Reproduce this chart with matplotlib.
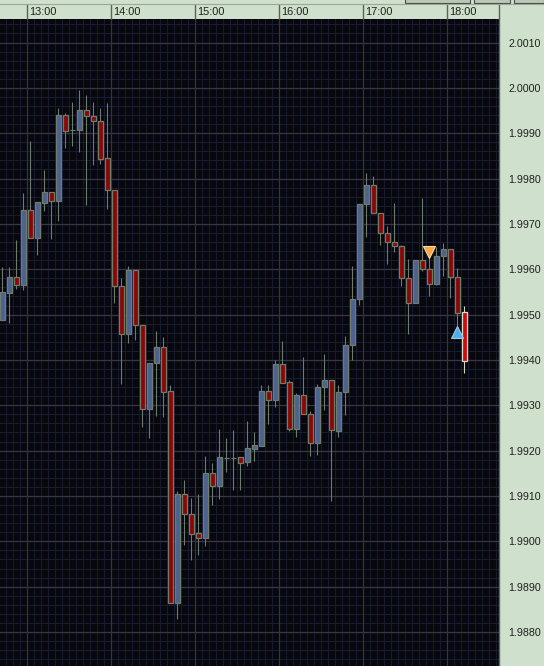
import numpy as np
import matplotlib
matplotlib.use("Agg")
import matplotlib.pyplot as plt
from matplotlib.lines import Line2D
from matplotlib.patches import Rectangle

# 5 minute candles
opens = [1.99487, 1.99548, 1.99582, 1.99566, 1.99730, 1.99670, 1.99747, 1.99770, 1.99751, 1.99940,
         1.99906, 1.99906, 1.99951, 1.99938, 1.99927, 1.99845, 1.99775, 1.99562, 1.99458, 1.99598,
         1.99478, 1.99291, 1.99393, 1.99428, 1.99331, 1.98865, 1.99104, 1.99061, 1.99018, 1.99008,
         1.99151, 1.99121, 1.99184, 1.99184, 1.99185, 1.99174, 1.99204, 1.99211, 1.99332, 1.99311,
         1.99391, 1.99351, 1.99247, 1.99323, 1.99281, 1.99216, 1.99340, 1.99356, 1.99244, 1.99329,
         1.99432, 1.99534, 1.99743, 1.99785, 1.99724, 1.99679, 1.99660, 1.99651, 1.99580, 1.99526,
         1.99620, 1.99600, 1.99568, 1.99629, 1.99644, 1.99584, 1.99505]
highs = [1.99604, 1.99604, 1.99664, 1.99768, 1.99883, 1.99748, 1.99819, 1.99770, 1.99956, 1.99944,
         1.99969, 1.99996, 1.99984, 1.99968, 1.99955, 1.99966, 1.99775, 1.99580, 1.99607, 1.99598,
         1.99478, 1.99393, 1.99463, 1.99451, 1.99344, 1.99110, 1.99135, 1.99096, 1.99104, 1.99188,
         1.99173, 1.99248, 1.99228, 1.99246, 1.99185, 1.99265, 1.99241, 1.99345, 1.99345, 1.99400,
         1.99442, 1.99356, 1.99328, 1.99407, 1.99287, 1.99347, 1.99412, 1.99356, 1.99344, 1.99453,
         1.99607, 1.99743, 1.99812, 1.99806, 1.99724, 1.99696, 1.99747, 1.99654, 1.99623, 1.99620,
         1.99757, 1.99635, 1.99648, 1.99658, 1.99644, 1.99602, 1.99519]
lows = [1.99487, 1.99482, 1.99557, 1.99554, 1.99670, 1.99632, 1.99729, 1.99667, 1.99707, 1.99868,
        1.99872, 1.99859, 1.99742, 1.99829, 1.99833, 1.99733, 1.99526, 1.99348, 1.99438, 1.99444,
        1.99253, 1.99227, 1.99277, 1.99275, 1.98865, 1.98829, 1.98992, 1.98959, 1.98970, 1.98990,
        1.99080, 1.99093, 1.99153, 1.99113, 1.99113, 1.99165, 1.99178, 1.99211, 1.99259, 1.99297,
        1.99349, 1.99244, 1.99229, 1.99280, 1.99189, 1.99191, 1.99290, 1.99089, 1.99231, 1.99279,
        1.99400, 1.99521, 1.99672, 1.99724, 1.99654, 1.99612, 1.99639, 1.99563, 1.99457, 1.99526,
        1.99597, 1.99542, 1.99565, 1.99585, 1.99537, 1.99473, 1.99372]
closes = [1.99549, 1.99582, 1.99566, 1.99730, 1.99670, 1.99748, 1.99770, 1.99751, 1.99940, 1.99904,
          1.99906, 1.99951, 1.99937, 1.99927, 1.99844, 1.99774, 1.99562, 1.99458, 1.99598, 1.99478,
          1.99291, 1.99393, 1.99428, 1.99330, 1.98865, 1.99104, 1.99061, 1.99017, 1.99008, 1.99151,
          1.99121, 1.99186, 1.99184, 1.99184, 1.99173, 1.99206, 1.99212, 1.99332, 1.99311, 1.99391,
          1.99350, 1.99247, 1.99323, 1.99280, 1.99216, 1.99340, 1.99356, 1.99245, 1.99329, 1.99432,
          1.99534, 1.99743, 1.99785, 1.99724, 1.99679, 1.99660, 1.99651, 1.99580, 1.99526, 1.99620,
          1.99600, 1.99568, 1.99629, 1.99644, 1.99584, 1.99504, 1.99398]

hour_labels = ['13:00', '14:00', '15:00', '16:00', '17:00', '18:00']
first_hour_slot = 3.5      # bar slot where 13:00 starts
bars_per_hour = 12

price_ticks = [2.0010, 2.0000, 1.9990, 1.9980, 1.9970, 1.9960, 1.9950, 1.9940,
               1.9930, 1.9920, 1.9910, 1.9900, 1.9890, 1.9880]

sell_signal = (60.9, 1.99638)
buy_signal = (64.9, 1.99462)

# colours
bg = '#07070d'
panel = '#cfe0cc'
up_col = '#4b6292'
dn_col = '#8c0606'
edge_col = '#6f7c6c'
wick_col = '#6d7b6c'

W, H = 544, 666
plot_right = 499
plot_top = 18.5

fig = plt.figure(figsize=(W / 100, H / 100), dpi=100, facecolor=panel)
ax = fig.add_axes([0, 0, plot_right / W, (H - plot_top) / H])
ax.set_facecolor(bg)

n = len(opens)
x = np.arange(n)
ax.set_xlim(-0.33, (plot_right - 2.3) / 7)
ax.set_ylim(1.98725, 2.00153)

# grid
for gx in np.arange(-0.5, n + 5, 1.0):
    ax.axvline(gx, color='#151a2c', lw=0.8, zorder=0)
for gy in np.arange(1.9872, 2.0016, 0.0002):
    ax.axhline(gy, color='#171c30', lw=0.8, zorder=0)
for p in price_ticks:
    ax.axhline(p, color='#3a3648', lw=0.9, zorder=0.5)
hour_pos = [first_hour_slot + bars_per_hour * k for k in range(len(hour_labels))]
for hp in hour_pos:
    ax.axvline(hp, color='#34343f', lw=0.9, zorder=0.5)

# candles
o = np.array(opens); c = np.array(closes)
hi = np.array(highs); lo = np.array(lows)
up = c >= o
fills = np.where(up, up_col, dn_col).tolist()
edges = [edge_col] * n
wicks = [wick_col] * n
fills[-1] = '#d40808'
edges[-1] = '#d0dccc'
wicks[-1] = '#c8d8c4'

ax.vlines(x, lo, hi, colors=wicks, lw=0.8, zorder=2)
ax.bar(x, np.abs(c - o), bottom=np.minimum(o, c), width=0.68,
       color=fills, edgecolor=edges, linewidth=0.9, zorder=3)

ax.plot(*sell_signal, marker='v', ms=8, color='#f5a845', mec='#ffd9a0', mew=0.8, zorder=4)
ax.plot(*buy_signal, marker='^', ms=8, color='#4ab0ea', mec='#a8c8d8', mew=0.8, zorder=4)

# price axis on the right
ax.yaxis.tick_right()
ax.set_yticks(price_ticks)
ax.set_yticklabels(['%.4f' % p for p in price_ticks], fontsize=7.7,
                   family='Liberation Sans', color='#202020')
ax.tick_params(axis='y', length=0, pad=6.5)
ax.set_xticks([])
for s in ['top', 'left', 'bottom']:
    ax.spines[s].set_visible(False)
ax.spines['right'].set_color('#5d6a5c')
ax.spines['right'].set_linewidth(1)

# time labels in top bar
frac = 1.0 / (H - plot_top)
for hp, lab in zip(hour_pos, hour_labels):
    ax.text(hp + 0.3, 1 + 7 * frac, lab, transform=ax.get_xaxis_transform(),
            ha='left', va='center', fontsize=7.9, family='Liberation Sans',
            color='#202020', clip_on=False)
ax.vlines(hour_pos, 1, 1 + 15 * frac, transform=ax.get_xaxis_transform(),
          colors='#5a625a', lw=1, clip_on=False)
ax.vlines([(plot_right - 2.3) / 7], 1, 1 + 15 * frac, transform=ax.get_xaxis_transform(),
          colors='#5a625a', lw=1, clip_on=False)

# thin strip at very top
fig.add_artist(Line2D([0, 1], [1 - 3.5 / H, 1 - 3.5 / H], color='#9aa898', lw=0.8))
for bx, bw in [(405, 65), (474, 36), (514, 30)]:
    fig.add_artist(Rectangle((bx / W, 1 - 2.5 / H), bw / W, 4 / H,
                             facecolor='#b8c8b4', edgecolor='#4a4a4a', lw=0.8))

fig.savefig('out.png', dpi=100, facecolor=panel)
